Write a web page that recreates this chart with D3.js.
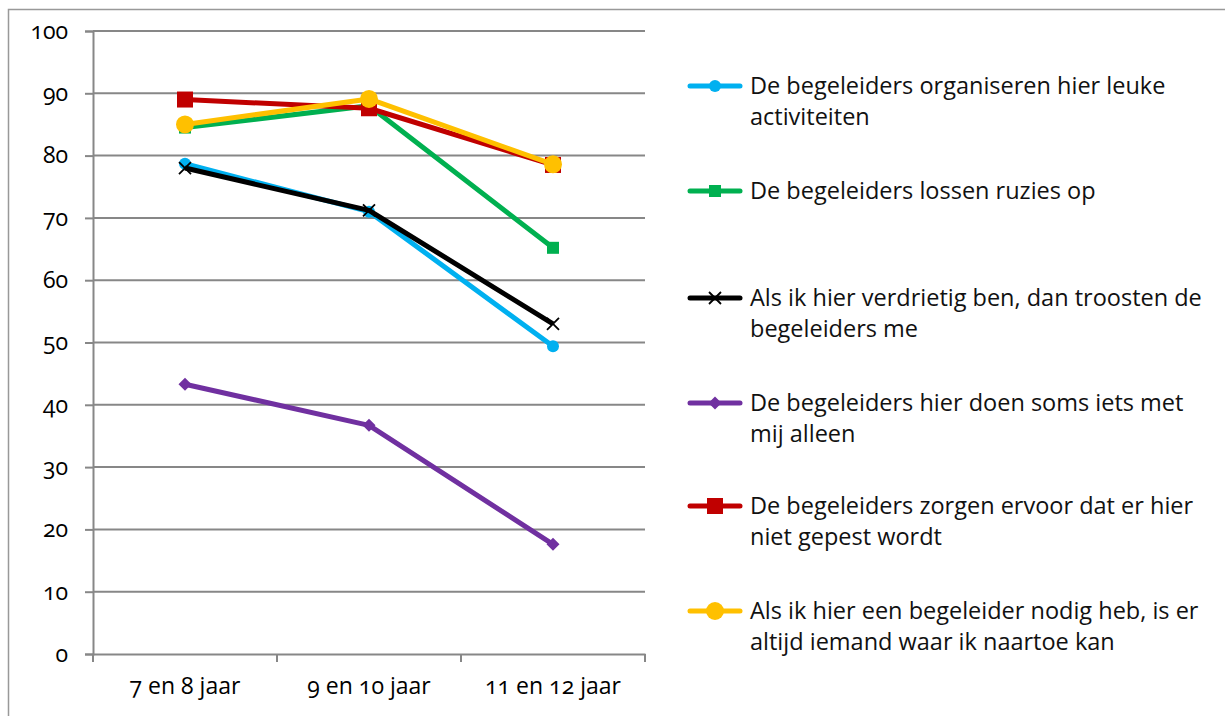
<!DOCTYPE html>
<html>
<head>
    <meta charset="utf-8">
    <script src="https://d3js.org/d3.v7.min.js"></script>
    <style>
        body { margin: 0; background: #fff; }
        svg text { font-family: "Open Sans", Lato, sans-serif; font-variant-numeric: oldstyle-nums; }
        .tick text { fill: #000; font-size: 23px; }
        .legend text { font-size: 23.5px; fill: #111; }
    </style>
</head>
<body>
<div id="chart"></div>
<script>
    // leeftijdsgroepen
    const categories = ["7 en 8 jaar", "9 en 10 jaar", "11 en 12 jaar"];
    const yTicks = [0, 10, 20, 30, 40, 50, 60, 70, 80, 90, 100];

    // waarden per stelling (%)
    const organiseren = [78.7, 71.0, 49.4];
    const ruzies = [84.5, 88.0, 65.2];
    const troosten = [78.0, 71.2, 53.0];
    const alleen = [43.3, 36.7, 17.6];
    const gepest = [89.0, 87.6, 78.5];
    const nodig = [85.0, 89.1, 78.6];

    const series = [
        { name: ["De begeleiders organiseren hier leuke", "activiteiten"], values: organiseren, color: "#00B0F0", marker: "circle", size: 12 },
        { name: ["De begeleiders lossen ruzies op"], values: ruzies, color: "#00B050", marker: "square", size: 12 },
        { name: ["Als ik hier verdrietig ben, dan troosten de", "begeleiders me"], values: troosten, color: "#000000", marker: "x", size: 12 },
        { name: ["De begeleiders hier doen soms iets met", "mij alleen"], values: alleen, color: "#7030A0", marker: "diamond", size: 13 },
        { name: ["De begeleiders zorgen ervoor dat er hier", "niet gepest wordt"], values: gepest, color: "#C00000", marker: "square", size: 16 },
        { name: ["Als ik hier een begeleider nodig heb, is er", "altijd iemand waar ik naartoe kan"], values: nodig, color: "#FFC000", marker: "circle", size: 18 }
    ];

    const W = 1225, H = 716;
    const plot = { left: 93, right: 645, top: 31, bottom: 654 };

    const svg = d3.select("#chart").append("svg")
        .attr("width", W).attr("height", H);

    // rand om de grafiek
    svg.append("rect")
        .attr("x", 8.5).attr("y", 9.5)
        .attr("width", W + 20).attr("height", H + 20)
        .attr("fill", "none").attr("stroke", "#999").attr("stroke-width", 1.5);

    const x = d3.scaleBand().domain(categories).range([plot.left, plot.right]);
    const y = d3.scaleLinear().domain([0, 100]).range([plot.bottom, plot.top]);

    // rasterlijnen
    svg.append("g").selectAll("line")
        .data(yTicks.filter(d => d > 0))
        .enter().append("line")
        .attr("x1", plot.left).attr("x2", plot.right)
        .attr("y1", d => y(d)).attr("y2", d => y(d))
        .attr("stroke", "#878787").attr("stroke-width", 2);

    // y-as
    const yAxis = svg.append("g")
        .attr("transform", `translate(${plot.left},0)`)
        .call(d3.axisLeft(y).tickValues(yTicks).tickSize(8).tickPadding(17));
    yAxis.attr("font-size", null).attr("font-family", null);
    yAxis.selectAll("path, line").attr("stroke", "#878787").attr("stroke-width", 2);

    // x-as
    const xAxis = svg.append("g")
        .attr("transform", `translate(0,${plot.bottom})`)
        .call(d3.axisBottom(x).tickSize(0).tickPadding(24));
    xAxis.attr("font-size", null).attr("font-family", null);
    xAxis.select(".domain").attr("stroke", "#878787").attr("stroke-width", 2);
    xAxis.selectAll(".sep")
        .data([0, 1, 2, 3])
        .enter().append("line")
        .attr("x1", d => plot.left + d * x.bandwidth())
        .attr("x2", d => plot.left + d * x.bandwidth())
        .attr("y1", 0).attr("y2", 8)
        .attr("stroke", "#878787").attr("stroke-width", 2);

    function drawMarker(g, type, size, color) {
        const s = size / 2;
        if (type === "circle") {
            g.append("circle").attr("r", s).attr("fill", color);
        } else if (type === "square") {
            g.append("rect").attr("x", -s).attr("y", -s).attr("width", size).attr("height", size).attr("fill", color);
        } else if (type === "diamond") {
            g.append("path").attr("d", `M0,${-s}L${s},0L0,${s}L${-s},0Z`).attr("fill", color);
        } else if (type === "x") {
            g.append("path").attr("d", `M${-s},${-s}L${s},${s}M${-s},${s}L${s},${-s}`)
                .attr("stroke", color).attr("stroke-width", 1.8);
        }
    }

    const line = d3.line()
        .x((d, i) => x(categories[i]) + x.bandwidth() / 2)
        .y(d => y(d));

    series.forEach(s => {
        const g = svg.append("g");
        g.append("path")
            .attr("d", line(s.values))
            .attr("fill", "none")
            .attr("stroke", s.color)
            .attr("stroke-width", 5)
            .attr("stroke-linejoin", "round");
        s.values.forEach((v, i) => {
            const m = g.append("g")
                .attr("transform", `translate(${x(categories[i]) + x.bandwidth() / 2},${y(v)})`);
            drawMarker(m, s.marker, s.size, s.color);
        });
    });

    // legenda
    const legendY = [86, 191, 298, 403, 506, 611];
    const legend = svg.append("g").attr("class", "legend");
    series.forEach((s, i) => {
        const g = legend.append("g").attr("transform", `translate(690,${legendY[i]})`);
        g.append("line").attr("x1", 0).attr("x2", 50).attr("y1", 0).attr("y2", 0)
            .attr("stroke", s.color).attr("stroke-width", 5).attr("stroke-linecap", "round");
        const m = g.append("g").attr("transform", "translate(25,0)");
        drawMarker(m, s.marker, s.size, s.color);
        s.name.forEach((t, j) => {
            g.append("text")
                .attr("x", 60).attr("y", j * 31)
                .attr("dy", "0.35em")
                .text(t);
        });
    });
</script>
</body>
</html>
